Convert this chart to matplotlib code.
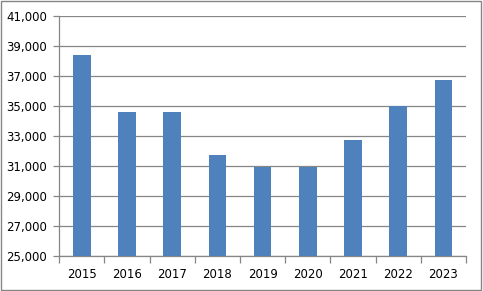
import matplotlib
matplotlib.use('Agg')
import matplotlib.pyplot as plt
from matplotlib.patches import Rectangle
from matplotlib.ticker import FuncFormatter

# data
years = ['2015', '2016', '2017', '2018', '2019', '2020', '2021', '2022', '2023']
values = [38400, 34600, 34600, 31700, 30900, 30900, 32700, 35000, 36750]
y_ticks = list(range(25000, 41001, 2000))

fig = plt.figure(figsize=(4.83, 2.91), dpi=100)
ax = fig.add_axes([0.1228, 0.1213, 0.842, 0.8237])

x = range(len(years))
ax.bar(x, values, width=0.39, color='#4F81BD', zorder=3)

ax.set_ylim(25000, 41000)
ax.set_xlim(-0.5, len(years) - 0.5)
ax.set_yticks(y_ticks)
ax.yaxis.set_major_formatter(FuncFormatter(lambda v, p: '{:,.0f}'.format(v)))
ax.grid(axis='y', color='#868686', linewidth=0.9, zorder=0)

ax.set_xticks(list(x))
ax.set_xticklabels(years)
# category boundary ticks
ax.set_xticks([i - 0.5 for i in range(len(years) + 1)], minor=True)
ax.tick_params(axis='x', which='major', length=0, pad=9)
ax.tick_params(axis='x', which='minor', length=5, color='#868686', width=0.9)
ax.tick_params(axis='y', length=4, color='#868686', width=0.9, pad=5)
ax.tick_params(labelsize=8.5, labelcolor='black')

for s in ['top', 'right']:
    ax.spines[s].set_visible(False)
for s in ['left', 'bottom']:
    ax.spines[s].set_color('#868686')
    ax.spines[s].set_linewidth(0.9)

# outer chart border
fig.patches.append(Rectangle((0.003, 0.005), 0.993, 0.99, transform=fig.transFigure,
                             fill=False, edgecolor='#868686', linewidth=1))

fig.savefig('out.png', dpi=100)
